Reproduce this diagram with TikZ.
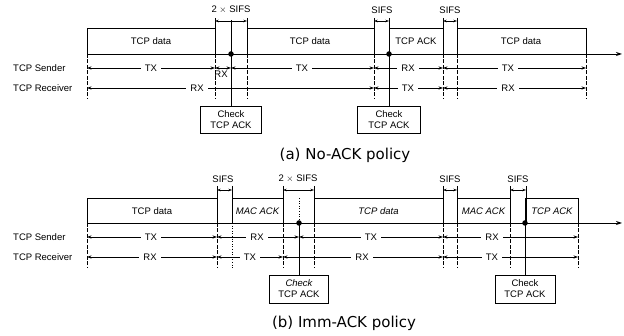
\documentclass[tikz,border=0pt]{standalone}
\usepackage{fontspec}
\setmainfont{Liberation Sans}
\newfontfamily\capfont{DejaVu Sans}
\usetikzlibrary{arrows.meta}
\begin{document}
\begin{tikzpicture}[x=1pt,y=-1pt,
  lbl/.style={font=\fontsize{9.5}{10.5}\selectfont, inner sep=1pt},
  rowlbl/.style={lbl, fill=white, inner xsep=4pt},
  seg/.style={{Stealth[length=4.5pt,width=3.2pt]}-{Stealth[length=4.5pt,width=3.2pt]}, line width=0.75pt},
  brk/.style={{Stealth[length=3.5pt,width=2.5pt]}-{Stealth[length=3.5pt,width=2.5pt]}, line width=0.6pt},
  tl/.style={-{Stealth[length=6pt,width=4pt]}, line width=0.9pt},
  boxline/.style={line width=0.8pt},
  ext/.style={line width=0.7pt, dash pattern=on 4pt off 1.5pt},
  dotext/.style={line width=0.6pt, dotted},
  chk/.style={draw, line width=0.8pt, align=center, font=\fontsize{9.5}{11}\selectfont, inner sep=0pt},
  chkline/.style={line width=1pt},
  dot/.style={circle, fill=black, inner sep=0pt, minimum size=5.5pt},
  captext/.style={font=\capfont\fontsize{15}{17}\selectfont}
]
\useasboundingbox (0,0) rectangle (624,336);

% ================= Panel (a) =================
\node[lbl, anchor=west] (aS) at (12,68) {TCP Sender};
\node[lbl, anchor=west] (aR) at (12,88) {TCP Receiver};

\draw[boxline] (87,54) -- (87,28) -- (215,28) -- (215,54);
\draw[boxline] (247,54) -- (247,28) -- (374,28) -- (374,54);
\draw[boxline] (389,54) -- (389,28) -- (443,28) -- (443,54);
\draw[boxline] (457,54) -- (457,28) -- (586,28) -- (586,54);
\node[lbl] (ad1) at (151,41) {TCP data};
\node[lbl] (ad2) at (310,41) {TCP data};
\node[lbl] (aa1) at (416,41) {TCP ACK};
\node[lbl] (ad3) at (521,41) {TCP data};

\foreach \x in {215,247,374,389,443,457} \draw[boxline] (\x,18) -- (\x,28);
\foreach \x in {87,215,247,374,443,457,586} \draw[ext] (\x,54) -- (\x,99);

\draw[brk] (215,21) -- (247,21);
\draw[brk] (374,21) -- (389,21);
\draw[brk] (443,21) -- (457,21);
\node[lbl] (as1) at (231,10) {2 $\times$ SIFS};
\node[lbl] (as2) at (382,10) {SIFS};
\node[lbl] (as3) at (450,10) {SIFS};

\coordinate (at0) at (87,54);
\coordinate (at1) at (622,54);
\draw[tl] (at0) -- (at1);

\node[chk, minimum width=61pt, minimum height=27pt] (ac1) at (231,119.5) {Check\\TCP ACK};
\node[chk, minimum width=63pt, minimum height=27pt] (ac2) at (389,119.5) {Check\\TCP ACK};
\draw[chkline] (231,20) -- (ac1.north);
\draw[chkline] (389,28) -- (ac2.north);
\node[dot] (adot1) at (231,54) {};
\node[dot] (adot2) at (389,54) {};

\draw[seg] (87,68) -- (215,68);
\node[rowlbl] at (151,68) {TX};
\draw[seg] (215,68) -- (231,68);
\node[lbl] at (221,74.5) {RX};
\draw[seg] (231,68) -- (374,68);
\node[rowlbl] at (302,68) {TX};
\draw[seg] (374,68) -- (443,68);
\node[rowlbl] at (408,68) {RX};
\draw[seg] (443,68) -- (586,68);
\node[rowlbl] at (508,68) {TX};

\draw[seg] (87,88) -- (374,88);
\node[rowlbl] at (197,88) {RX};
\draw[seg] (374,88) -- (443,88);
\node[rowlbl] at (408,88) {TX};
\draw[seg] (443,88) -- (586,88);
\node[rowlbl] at (508,88) {RX};

\node[captext] (capa) at (345,155) {(a) No-ACK policy};

% ================= Panel (b) =================
\node[lbl, anchor=west] (bS) at (12,237) {TCP Sender};
\node[lbl, anchor=west] (bR) at (12,257) {TCP Receiver};

\draw[boxline] (87,223) -- (87,198) -- (217,198) -- (217,223);
\draw[boxline] (232,223) -- (232,198) -- (283,198) -- (283,223);
\draw[boxline] (314,223) -- (314,198) -- (443,198) -- (443,223);
\draw[boxline] (457,223) -- (457,198) -- (510,198) -- (510,223);
\draw[boxline] (526,223) -- (526,198) -- (578,198) -- (578,223);
\node[lbl] (bd1) at (152,211) {TCP data};
\node[lbl, font=\fontsize{9.5}{10.5}\selectfont\itshape] (bm1) at (257.5,211) {MAC ACK};
\node[lbl, font=\fontsize{9.5}{10.5}\selectfont\itshape] (bd2) at (378.5,211) {TCP data};
\node[lbl, font=\fontsize{9.5}{10.5}\selectfont\itshape] (bm2) at (483.5,211) {MAC ACK};
\node[lbl, font=\fontsize{9.5}{10.5}\selectfont\itshape] (ba1) at (552,211) {TCP ACK};

\foreach \x in {217,232,283,314,443,457,510,526} \draw[boxline] (\x,186) -- (\x,198);
\foreach \x in {87,217,283,314,443,457,510,578} \draw[ext] (\x,223) -- (\x,268);
\draw[dotext] (232,223) -- (232,268);
\draw[dotext] (299,198) -- (299,223);

\draw[brk] (217,190) -- (232,190);
\draw[brk] (283,190) -- (314,190);
\draw[brk] (443,190) -- (457,190);
\draw[brk] (510,190) -- (526,190);
\node[lbl] (bs1) at (223,179) {SIFS};
\node[lbl] (bs2) at (298,179) {2 $\times$ SIFS};
\node[lbl] (bs3) at (450,179) {SIFS};
\node[lbl] (bs4) at (518,179) {SIFS};

\coordinate (bt0) at (87,223);
\coordinate (bt1) at (622,223);
\draw[tl] (bt0) -- (bt1);

\node[chk, minimum width=59pt, minimum height=28pt] (bc1) at (299,289) {\itshape Check\\TCP ACK};
\node[chk, minimum width=60pt, minimum height=28pt] (bc2) at (525,289) {Check\\TCP ACK};
\node[dot] (bdot1) at (299,223) {};
\node[dot] (bdot2) at (525,223) {};
\draw[chkline] (bdot1.center) -- (bc1.north);
\draw[chkline] (525,198) -- (bc2.north);

\draw[seg] (87,237) -- (217,237);
\node[rowlbl] at (151,237) {TX};
\draw[seg] (217,237) -- (299,237);
\node[rowlbl] at (257,237) {RX};
\draw[seg] (299,237) -- (443,237);
\node[rowlbl] at (371,237) {TX};
\draw[seg] (443,237) -- (578,237);
\node[rowlbl] at (492,237) {RX};

\draw[seg] (87,257) -- (217,257);
\node[rowlbl] at (150,257) {RX};
\draw[seg] (217,257) -- (283,257);
\node[rowlbl] at (250,257) {TX};
\draw[seg] (283,257) -- (443,257);
\node[rowlbl] at (362,257) {RX};
\draw[seg] (443,257) -- (578,257);
\node[rowlbl] at (492,257) {TX};

\node[captext] (capb) at (344,323) {(b) Imm-ACK policy};
\end{tikzpicture}
\end{document}
